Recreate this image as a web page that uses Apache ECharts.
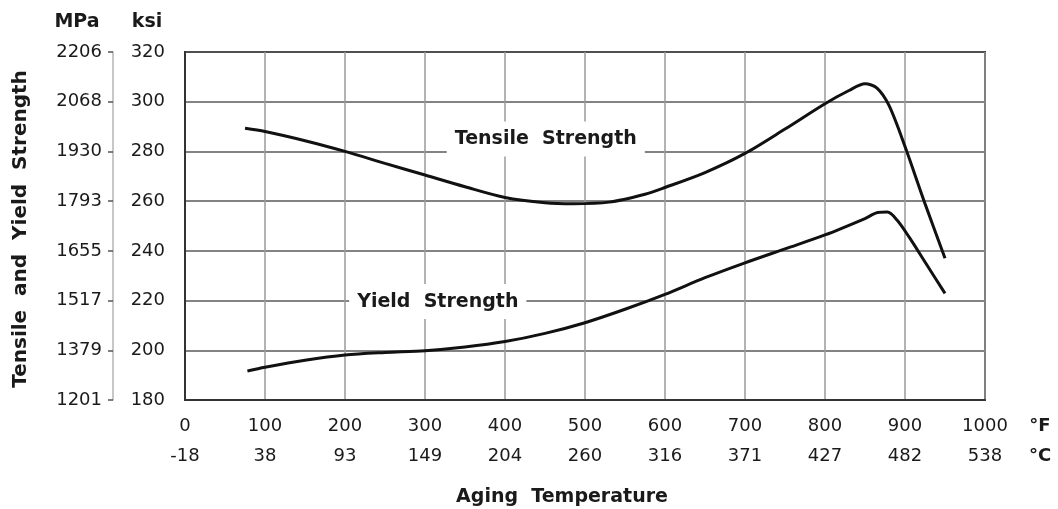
<!DOCTYPE html>
<html>
<head>
<meta charset="utf-8">
<script src="https://cdn.jsdelivr.net/npm/echarts@6/dist/echarts.min.js"></script>
<style>
html,body{margin:0;padding:0;background:#fff;}
#chart{width:1058px;height:509px;}
</style>
</head>
<body>
<div id="chart"></div>
<script>
// ---- data (°F, ksi) ----
const tensileF   = [75, 100, 150, 200, 250, 300, 350, 400, 450, 485, 530, 575, 600, 650, 700, 750, 800, 830, 850, 865, 880, 900, 925, 950];
const tensileKsi = [289.3, 288.0, 284.3, 280.0, 275.2, 270.5, 265.8, 261.5, 259.4, 259.0, 259.6, 262.8, 265.5, 271.5, 279.2, 289.0, 299.2, 304.5, 307.2, 305.5, 298.5, 282.0, 259.0, 237.0];
const yieldF     = [78, 100, 150, 200, 250, 300, 350, 400, 450, 500, 550, 600, 650, 700, 750, 800, 850, 866, 878, 890, 905, 928, 950];
const yieldKsi   = [191.7, 193.2, 196.0, 198.1, 199.1, 199.8, 201.3, 203.5, 206.8, 211.1, 216.5, 222.5, 229.2, 235.2, 240.8, 246.4, 253.0, 255.4, 255.6, 252.4, 245.6, 234.0, 222.9];

// ---- axis tick labels ----
const fMin = 0, fMax = 1000, fStep = 100;
const celsiusLabels = ['-18', '38', '93', '149', '204', '260', '316', '371', '427', '482', '538'];
const ksiMin = 180, ksiMax = 320, ksiStep = 20;
const mpaLabels = ['1201', '1379', '1517', '1655', '1793', '1930', '2068', '2206'];

// ---- annotation label anchors (data units) ----
const tensileLabelAt = [451, 285];
const yieldLabelAt = [316, 219.6];

const pair = (xs, ys) => xs.map((x, i) => [x, ys[i]]);

const FONT = 'DejaVu Sans';
const TXT = '#1a1a1a';

const chart = echarts.init(document.getElementById('chart'), null, {renderer: 'canvas'});
chart.setOption({
  animation: false,
  backgroundColor: '#fff',
  grid: {left: 185, right: 73, top: 52, bottom: 109, show: true, borderColor: '#333', borderWidth: 2, containLabel: false},
  xAxis: [
    {
      type: 'value', min: fMin, max: fMax, interval: fStep, position: 'bottom',
      axisLine: {show: true, onZero: false, lineStyle: {color: '#333', width: 2}},
      axisTick: {show: false},
      axisLabel: {margin: 17, fontFamily: FONT, fontSize: 18, color: TXT, formatter: v => String(v)},
      splitLine: {show: true, lineStyle: {color: '#9a9a9a', width: 1.5}}
    },
    {
      type: 'value', min: fMin, max: fMax, interval: fStep, position: 'bottom', offset: 30,
      axisLine: {show: false, onZero: false}, axisTick: {show: false}, splitLine: {show: false},
      axisLabel: {margin: 17, fontFamily: FONT, fontSize: 18, color: TXT,
        formatter: v => celsiusLabels[Math.round((v - fMin) / fStep)]}
    }
  ],
  yAxis: [
    {
      type: 'value', min: ksiMin, max: ksiMax, interval: ksiStep, position: 'left',
      axisLine: {show: true, onZero: false, lineStyle: {color: '#333', width: 2}},
      axisTick: {show: false},
      axisLabel: {margin: 20, fontFamily: FONT, fontSize: 18, color: TXT},
      splitLine: {show: true, lineStyle: {color: '#5a5a5a', width: 1.5}}
    },
    {
      type: 'value', min: ksiMin, max: ksiMax, interval: ksiStep, position: 'left', offset: 72,
      axisLine: {show: true, onZero: false, lineStyle: {color: '#b5b5b5', width: 1.5}},
      axisTick: {show: true, length: 5, lineStyle: {color: '#555', width: 1.5}},
      splitLine: {show: false},
      axisLabel: {margin: 11, fontFamily: FONT, fontSize: 18, color: TXT,
        formatter: v => mpaLabels[Math.round((v - ksiMin) / ksiStep)]}
    }
  ],
  series: [
    {
      name: 'Tensile Strength', type: 'line', xAxisIndex: 0, yAxisIndex: 0,
      data: pair(tensileF, tensileKsi), smooth: 0.3, showSymbol: false, z: 5,
      lineStyle: {color: '#111', width: 3},
      markPoint: {
        symbol: 'rect', symbolSize: 0,
        label: {show: true, position: 'inside', formatter: 'Tensile  Strength', fontFamily: FONT, fontWeight: 'bold', fontSize: 19, color: TXT,
          backgroundColor: '#fff', padding: [8, 8]},
        data: [{coord: tensileLabelAt}]
      }
    },
    {
      name: 'Yield Strength', type: 'line', xAxisIndex: 0, yAxisIndex: 0,
      data: pair(yieldF, yieldKsi), smooth: 0.3, showSymbol: false, z: 5,
      lineStyle: {color: '#111', width: 3},
      markPoint: {
        symbol: 'rect', symbolSize: 0,
        label: {show: true, position: 'inside', formatter: 'Yield  Strength', fontFamily: FONT, fontWeight: 'bold', fontSize: 19, color: TXT,
          backgroundColor: '#fff', padding: [8, 8]},
        data: [{coord: yieldLabelAt}]
      }
    }
  ],
  graphic: [
    {type: 'text', x: 77, y: 22, style: {text: 'MPa', font: 'bold 19px "DejaVu Sans"', fill: TXT, textAlign: 'center', textVerticalAlign: 'middle'}},
    {type: 'text', x: 147, y: 22, style: {text: 'ksi', font: 'bold 19px "DejaVu Sans"', fill: TXT, textAlign: 'center', textVerticalAlign: 'middle'}},
    {type: 'text', x: 1040, y: 426, style: {text: '°F', font: 'bold 18px "DejaVu Sans"', fill: TXT, textAlign: 'center', textVerticalAlign: 'middle'}},
    {type: 'text', x: 1040, y: 456, style: {text: '°C', font: 'bold 18px "DejaVu Sans"', fill: TXT, textAlign: 'center', textVerticalAlign: 'middle'}},
    {type: 'text', x: 562, y: 497, style: {text: 'Aging  Temperature', font: 'bold 19px "DejaVu Sans"', fill: TXT, textAlign: 'center', textVerticalAlign: 'middle'}},
    {type: 'text', x: 21, y: 229, rotation: Math.PI / 2, style: {text: 'Tensile  and  Yield  Strength', font: 'bold 20px "DejaVu Sans"', fill: TXT, textAlign: 'center', textVerticalAlign: 'middle'}}
  ]
});
</script>
</body>
</html>
